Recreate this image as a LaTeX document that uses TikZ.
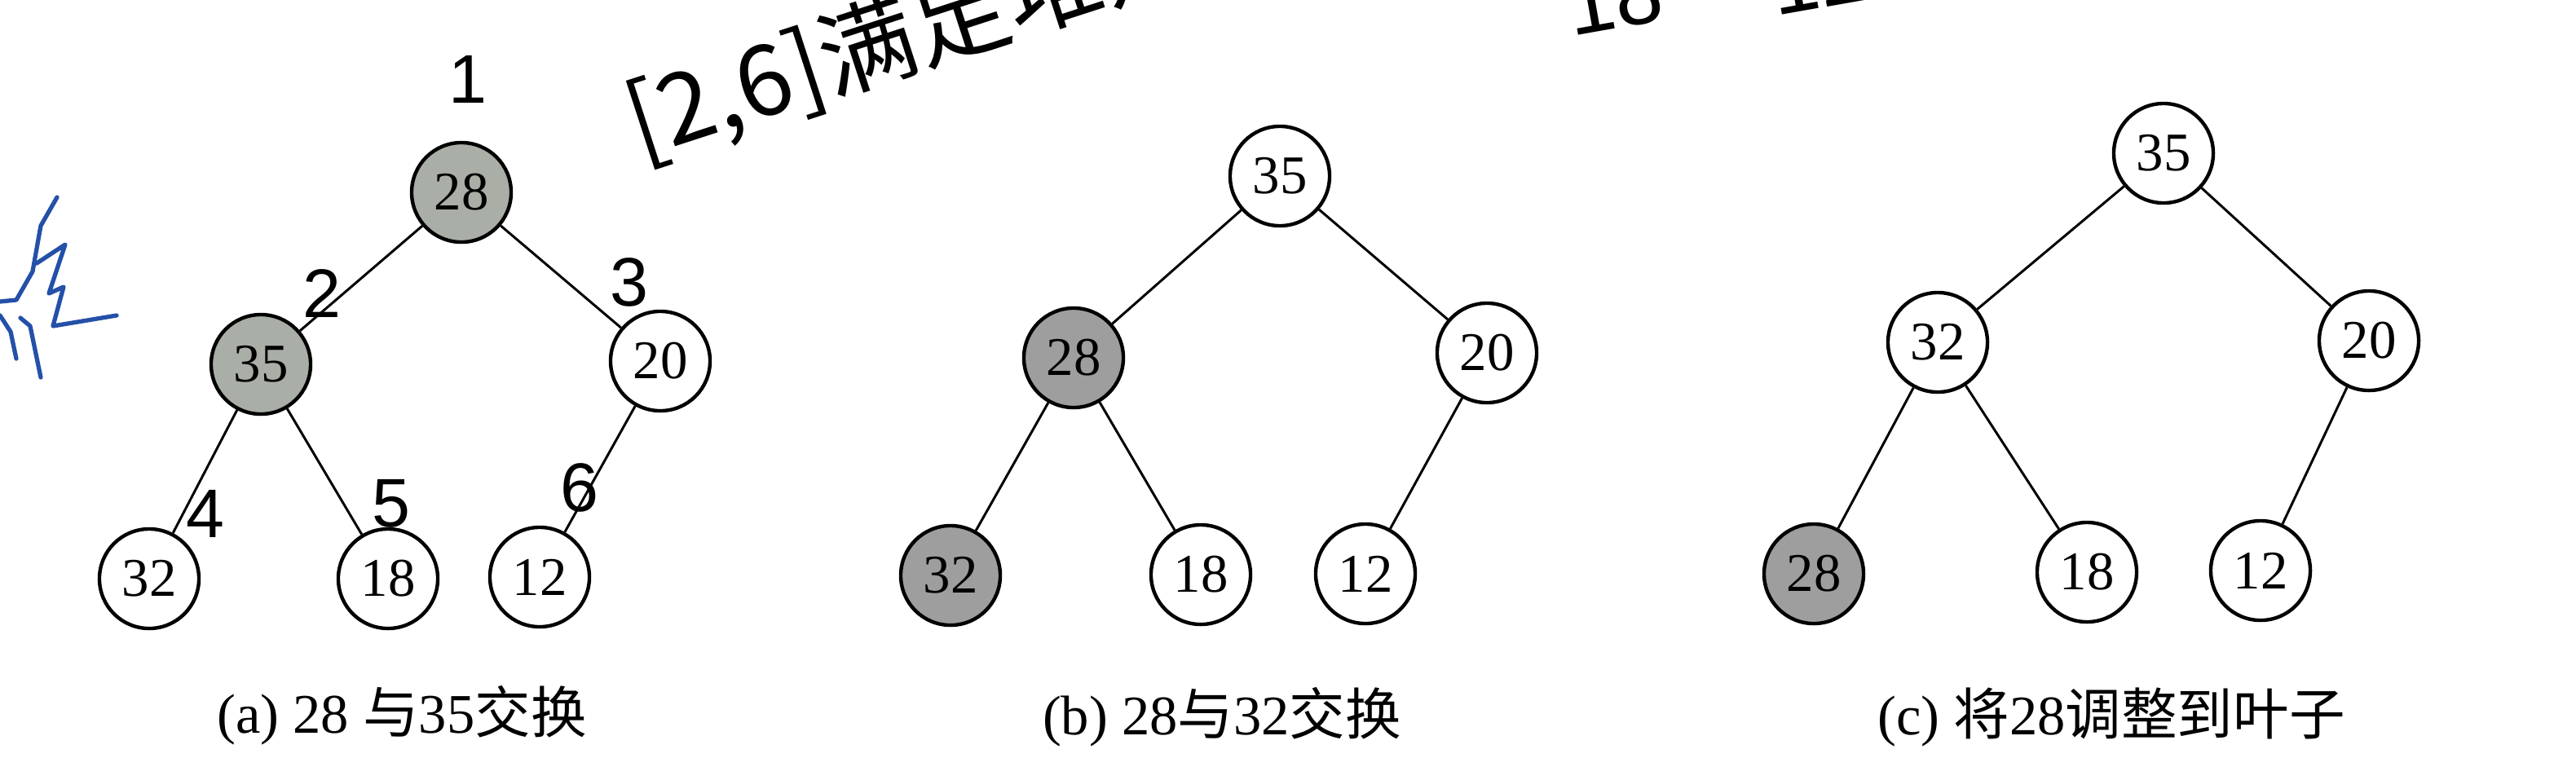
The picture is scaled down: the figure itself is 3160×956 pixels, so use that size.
\documentclass[tikz,border=0pt]{standalone}
\usepackage{fontspec}
\setmainfont{Liberation Serif}
\newfontfamily\cjk{Noto Sans CJK SC}
\newfontfamily\hand{Liberation Sans}
\definecolor{shadeA}{HTML}{A9AEA7}
\definecolor{shadeB}{HTML}{9E9E9E}
\definecolor{inkblue}{HTML}{2450A8}
\begin{document}
\begin{tikzpicture}[x=0.01cm,y=-0.01cm,
  hnode/.style={circle,draw,line width=1.25pt,minimum size=1.22cm,inner sep=0pt,
    font=\fontsize{19}{19}\selectfont},
  hot/.style={hnode,fill=shadeA},
  hotb/.style={hnode,fill=shadeB},
  edge/.style={line width=0.85pt},
  captext/.style={font=\fontsize{19.5}{20}\selectfont},
  handnum/.style={font=\hand\fontsize{24}{24}\selectfont},
  scrib/.style={inkblue,line width=1.5pt,line cap=round,line join=round}]
\useasboundingbox (0,0) rectangle (3160,956);
\clip (0,0) rectangle (3160,956);
\fill[white] (0,0) rectangle (3160,956);

% ---------- tree (a)
\node[hot]   (a1) at (566,236) {28};
\node[hot]   (a2) at (320,447) {35};
\node[hnode] (a3) at (810,443) {20};
\node[hnode] (a4) at (183,710) {32};
\node[hnode] (a5) at (476,710) {18};
\node[hnode] (a6) at (662,708) {12};
\draw[edge] (a1) -- (a2);
\draw[edge] (a1) -- (a3);
\draw[edge] (a2) -- (a4);
\draw[edge] (a2) -- (a5);
\draw[edge] (a3) -- (a6);
\node[captext] (capa) at (493,878) {(a) 28 {\cjk 与}35{\cjk 交换}};

% ---------- tree (b)
\node[hnode] (b1) at (1570,216) {35};
\node[hotb]  (b2) at (1317,439) {28};
\node[hnode] (b3) at (1824,433) {20};
\node[hotb]  (b4) at (1166,706) {32};
\node[hnode] (b5) at (1473,705) {18};
\node[hnode] (b6) at (1675,704) {12};
\draw[edge] (b1) -- (b2);
\draw[edge] (b1) -- (b3);
\draw[edge] (b2) -- (b4);
\draw[edge] (b2) -- (b5);
\draw[edge] (b3) -- (b6);
\node[captext] (capb) at (1499,880) {(b) 28{\cjk 与}32{\cjk 交换}};

% ---------- tree (c)
\node[hnode] (c1) at (2654,188) {35};
\node[hnode] (c2) at (2377,420) {32};
\node[hnode] (c3) at (2906,418) {20};
\node[hotb]  (c4) at (2225,704) {28};
\node[hnode] (c5) at (2560,702) {18};
\node[hnode] (c6) at (2773,700) {12};
\draw[edge] (c1) -- (c2);
\draw[edge] (c1) -- (c3);
\draw[edge] (c2) -- (c4);
\draw[edge] (c2) -- (c5);
\draw[edge] (c3) -- (c6);
\node[captext] (capc) at (2590,880) {(c) {\cjk 将}28{\cjk 调整到叶子}};

% ---------- handwritten annotations
\node[handnum] (n1) at (574,97)  {1};
\node[handnum] (n2) at (395,360) {2};
\node[handnum] (n3) at (772,346) {3};
\node[handnum] (n4) at (252,630) {4};
\node[handnum] (n5) at (480,618) {5};
\node[handnum] (n6) at (711,598) {6};
\node[anchor=south west,rotate=18,inner sep=0pt,
  font=\cjk\fontsize{34}{34}\selectfont] (note) at (792,216) {[2,6]满足堆定义};
\node[anchor=south west,rotate=10,inner sep=0pt,
  font=\hand\fontsize{30}{30}\selectfont] (note2) at (1928,46) {18};
\node[anchor=south west,rotate=10,inner sep=0pt,
  font=\hand\fontsize{30}{30}\selectfont] (note3) at (2178,20) {12};

% blue scribble at the left edge
\draw[scrib] (70,242) -- (50,277) -- (40,333) -- (20,368) -- (0,370);
\draw[scrib] (0,387) -- (13,407) -- (20,440);
\draw[scrib] (25,390) -- (37,400) -- (50,463);
\draw[scrib] (45,323) -- (80,300) -- (60,360) -- (78,352) -- (65,400) -- (143,387);
\end{tikzpicture}
\end{document}
